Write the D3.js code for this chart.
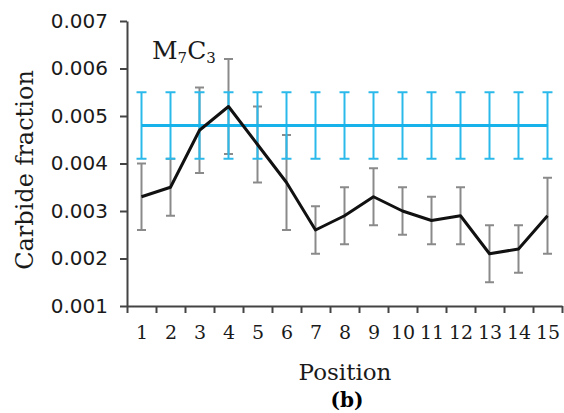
<!DOCTYPE html>
<html>
<head>
<meta charset="utf-8">
<script src="https://cdn.jsdelivr.net/npm/d3@7"></script>
<style>
  body { margin: 0; background: #fff; }
  .tick text { fill: #1a1a1a; }
  .y-axis .tick text { font-family: "DejaVu Sans", sans-serif; font-size: 20px; }
  .x-labels .tick text { font-family: "DejaVu Serif", serif; font-size: 19px; }
  .axis path, .axis line { stroke: #444; stroke-width: 2; }
  .axis-title { font-family: "DejaVu Serif", serif; fill: #1a1a1a; }
</style>
</head>
<body>
<div id="chart"></div>
<script>
// positions along the sample
const positions = [1, 2, 3, 4, 5, 6, 7, 8, 9, 10, 11, 12, 13, 14, 15];
// measured M7C3 fraction and its error range
const measured = [0.0033, 0.0035, 0.0047, 0.0052, 0.0044, 0.0036, 0.0026, 0.0029, 0.0033, 0.0030, 0.0028, 0.0029, 0.0021, 0.0022, 0.0029];
const measuredLow = [0.0026, 0.0029, 0.0038, 0.0042, 0.0036, 0.0026, 0.0021, 0.0023, 0.0027, 0.0025, 0.0023, 0.0023, 0.0015, 0.0017, 0.0021];
const measuredHigh = [0.0040, 0.0041, 0.0056, 0.0062, 0.0052, 0.0046, 0.0031, 0.0035, 0.0039, 0.0035, 0.0033, 0.0035, 0.0027, 0.0027, 0.0037];
// predicted (flat) value and its range
const predicted = [0.0048, 0.0048, 0.0048, 0.0048, 0.0048, 0.0048, 0.0048, 0.0048, 0.0048, 0.0048, 0.0048, 0.0048, 0.0048, 0.0048, 0.0048];
const predictedLow = [0.0041, 0.0041, 0.0041, 0.0041, 0.0041, 0.0041, 0.0041, 0.0041, 0.0041, 0.0041, 0.0041, 0.0041, 0.0041, 0.0041, 0.0041];
const predictedHigh = [0.0055, 0.0055, 0.0055, 0.0055, 0.0055, 0.0055, 0.0055, 0.0055, 0.0055, 0.0055, 0.0055, 0.0055, 0.0055, 0.0055, 0.0055];
const yTicks = [0.001, 0.002, 0.003, 0.004, 0.005, 0.006, 0.007];

const W = 564, H = 413;
const margin = { top: 21, right: 2, bottom: 107, left: 127 };
const width = W - margin.left - margin.right;
const height = H - margin.top - margin.bottom;

const svg = d3.select('#chart').append('svg')
    .attr('width', W)
    .attr('height', H);

const chart = svg.append('g')
    .attr('transform', `translate(${margin.left},${margin.top})`);

// linear x so that ticks sit between positions
const xScale = d3.scaleLinear()
    .domain([0.5, 15.5])
    .range([0, width]);

const yScale = d3.scaleLinear()
    .domain([0.001, 0.007])
    .range([height, 0]);

// tick marks between categories
chart.append('g')
    .attr('class', 'axis x-axis')
    .attr('transform', `translate(0,${height})`)
    .call(d3.axisBottom(xScale)
        .tickValues(d3.range(0, 16).map(i => i + 0.5))
        .tickSize(7)
        .tickSizeOuter(0)
        .tickFormat(''));

// labels at categories
chart.append('g')
    .attr('class', 'axis x-labels')
    .attr('transform', `translate(0,${height})`)
    .call(d3.axisBottom(xScale)
        .tickValues(positions)
        .tickSize(0)
        .tickPadding(20)
        .tickFormat(d3.format('d')))
    .call(g => g.select('.domain').remove());

chart.append('g')
    .attr('class', 'axis y-axis')
    .call(d3.axisLeft(yScale)
        .tickValues(yTicks)
        .tickSize(7)
        .tickSizeOuter(0)
        .tickPadding(12)
        .tickFormat(d3.format('.3f')));

const measData = positions.map((p, i) => ({ p, v: measured[i], lo: measuredLow[i], hi: measuredHigh[i] }));
const predData = positions.map((p, i) => ({ p, v: predicted[i], lo: predictedLow[i], hi: predictedHigh[i] }));

function errorBars(data, cls, color, w, cap) {
    const g = chart.append('g').attr('class', cls);
    const bar = g.selectAll('g').data(data).join('g');
    bar.append('line')
        .attr('x1', d => xScale(d.p)).attr('x2', d => xScale(d.p))
        .attr('y1', d => yScale(d.lo)).attr('y2', d => yScale(d.hi))
        .attr('stroke', color).attr('stroke-width', w);
    bar.append('line')
        .attr('x1', d => xScale(d.p) - cap).attr('x2', d => xScale(d.p) + cap)
        .attr('y1', d => yScale(d.lo)).attr('y2', d => yScale(d.lo))
        .attr('stroke', color).attr('stroke-width', w);
    bar.append('line')
        .attr('x1', d => xScale(d.p) - cap).attr('x2', d => xScale(d.p) + cap)
        .attr('y1', d => yScale(d.hi)).attr('y2', d => yScale(d.hi))
        .attr('stroke', color).attr('stroke-width', w);
}

errorBars(measData, 'meas-err', '#8a8a8a', 2, 4.5);
errorBars(predData, 'pred-err', '#2bb8ea', 2, 5);

const line = d3.line()
    .x(d => xScale(d.p))
    .y(d => yScale(d.v));

chart.append('path')
    .datum(predData)
    .attr('d', line)
    .attr('fill', 'none')
    .attr('stroke', '#18b2ea')
    .attr('stroke-width', 3);

chart.append('path')
    .datum(measData)
    .attr('d', line)
    .attr('fill', 'none')
    .attr('stroke', '#111')
    .attr('stroke-width', 3)
    .attr('stroke-linejoin', 'round');

// phase label
const label = svg.append('text')
    .attr('class', 'axis-title')
    .attr('x', 152)
    .attr('y', 59)
    .style('font-size', '25px');
label.append('tspan').text('M');
label.append('tspan').attr('dy', 4).style('font-size', '15px').text('7');
label.append('tspan').attr('dy', -4).text('C');
label.append('tspan').attr('dy', 4).style('font-size', '15px').text('3');

svg.append('text')
    .attr('class', 'axis-title')
    .attr('transform', 'translate(33,170) rotate(-90)')
    .style('text-anchor', 'middle')
    .style('font-size', '24px')
    .text('Carbide fraction');

svg.append('text')
    .attr('class', 'axis-title')
    .attr('x', 345)
    .attr('y', 380)
    .style('text-anchor', 'middle')
    .style('font-size', '23px')
    .text('Position');

svg.append('text')
    .attr('x', 347)
    .attr('y', 407)
    .style('text-anchor', 'middle')
    .style('font-family', '"DejaVu Serif", serif')
    .style('font-weight', 'bold')
    .style('font-size', '20px')
    .text('(b)');
</script>
</body>
</html>
